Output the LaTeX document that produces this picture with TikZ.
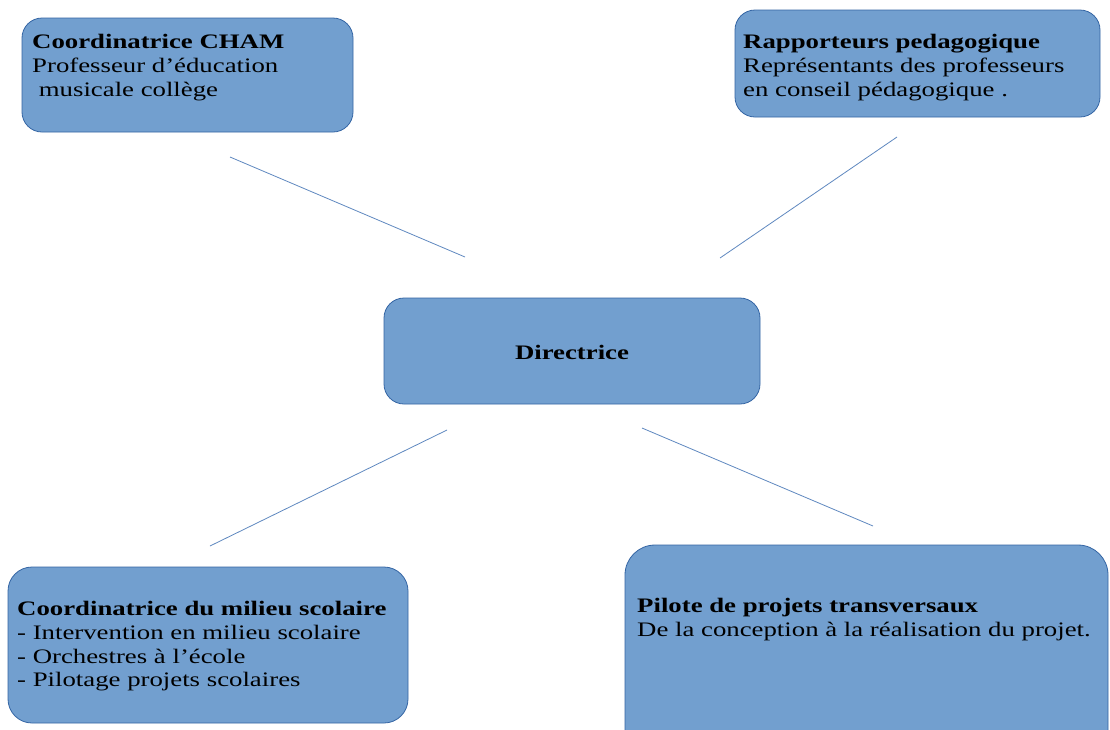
\documentclass[tikz,border=0pt]{standalone}
\usepackage{fontspec}
\setmainfont{Liberation Serif}[FakeStretch=1.3]
\begin{document}
\begin{tikzpicture}[x=1pt,y=-1pt,
  boxstyle/.style={draw=boxborder, line width=0.8pt, fill=boxfill, rounded corners=20pt},
  txt/.style={anchor=north west, inner sep=0pt, align=left, font=\fontsize{20.6}{23.8}\selectfont, text=black},
  link/.style={draw=linkcol, line width=0.8pt}]
\definecolor{boxfill}{HTML}{729FCF}
\definecolor{boxborder}{HTML}{3465A4}
\definecolor{linkcol}{HTML}{5F88C0}
\clip (0,0) rectangle (1110,729);
\fill[white] (0,0) rectangle (1110,729);
% boxes
\path[boxstyle] (22,18) rectangle (353,132);
\path[boxstyle] (735,10) rectangle (1100,117);
\path[boxstyle] (384,298) rectangle (760,404);
\path[boxstyle, rounded corners=24pt] (8,567) rectangle (408,723);
\path[boxstyle, rounded corners=30pt] (625,545) rectangle (1108,770);
% texts
\node[txt] (cham) at (32,34) {\textbf{Coordinatrice CHAM}\\Professeur d’éducation\\ \ musicale collège};
\node[txt] (rapp) at (743,34) {\textbf{Rapporteurs pedagogique}\\Représentants des professeurs\\en conseil pédagogique .};
\node[font=\fontsize{20.6}{23.8}\selectfont\bfseries, inner sep=0pt] (dir) at (572,352) {Directrice};
\node[txt] (milieu) at (17,601) {\textbf{Coordinatrice du milieu scolaire}\\- Intervention en milieu scolaire\\- Orchestres à l’école\\- Pilotage projets scolaires};
\node[txt] (pilote) at (637,598) {\textbf{Pilote de projets transversaux}\\De la conception à la réalisation du projet.};
% connector ends
\coordinate (l1a) at (230,157); \coordinate (l1b) at (465,257);
\coordinate (l2a) at (897,137); \coordinate (l2b) at (720,258);
\coordinate (l3a) at (447,430); \coordinate (l3b) at (210,546);
\coordinate (l4a) at (642,428); \coordinate (l4b) at (873,526);
\draw[link] (l1a) -- (l1b);
\draw[link] (l2a) -- (l2b);
\draw[link] (l3a) -- (l3b);
\draw[link] (l4a) -- (l4b);
\end{tikzpicture}
\end{document}
